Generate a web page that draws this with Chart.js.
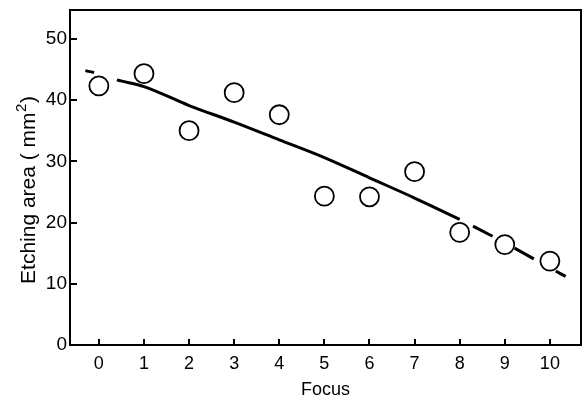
<!DOCTYPE html>
<html>
<head>
<meta charset="utf-8">
<script src="https://cdn.jsdelivr.net/npm/chart.js@4/dist/chart.umd.min.js"></script>
<style>
  html, body { margin: 0; padding: 0; background: #fff; overflow: hidden; }
  #wrap { width: 582px; height: 405px; }
</style>
</head>
<body>
<div id="wrap"><canvas id="etch-chart"></canvas></div>
<script>
// measured etching area at each focus setting
const focus = [0, 1, 2, 3, 4, 5, 6, 7, 8, 9, 10];
const etchArea = [42.3, 44.3, 35.0, 41.2, 37.6, 24.3, 24.2, 28.3, 18.4, 16.4, 13.7];

// fitted trend, solid between 0.4 and 8, dashed outside
const fitX = [-0.3, 0, 0.4, 1, 2, 3, 4, 5, 6, 7, 8, 9, 10, 10.35];
const fitY = [44.8, 44.3, 43.3, 42.2, 39.1, 36.4, 33.5, 30.6, 27.3, 24.0, 20.5, 16.7, 12.6, 11.2];
const solidFrom = 2, solidTo = 10;

const xTicks = [0, 1, 2, 3, 4, 5, 6, 7, 8, 9, 10];
const yTicks = [0, 10, 20, 30, 40, 50];

const FONT = "'Liberation Sans', Arial, sans-serif";

// boxed frame with short inward ticks
const frame = {
    id: 'frame',
    afterDraw(chart) {
        const { ctx, chartArea: a, scales } = chart;
        ctx.save();
        ctx.strokeStyle = '#000';
        ctx.lineWidth = 2;
        ctx.strokeRect(a.left, a.top, a.right - a.left, a.bottom - a.top);
        ctx.beginPath();
        xTicks.forEach(v => {
            const px = Math.round(scales.x.getPixelForValue(v));
            ctx.moveTo(px, a.bottom);
            ctx.lineTo(px, a.bottom - 6);
        });
        yTicks.forEach(v => {
            const py = Math.round(scales.y.getPixelForValue(v));
            ctx.moveTo(a.left, py);
            ctx.lineTo(a.left + 7, py);
        });
        ctx.stroke();
        ctx.restore();
    }
};

// vertical axis title with a proper superscript 2
const yTitle = {
    id: 'yTitle',
    afterDraw(chart) {
        const ctx = chart.ctx;
        const main = 'Etching area ( mm', sup = '2', tail = ')';
        const big = `21px ${FONT}`, small = `15px ${FONT}`;
        ctx.save();
        ctx.fillStyle = '#000';
        ctx.textBaseline = 'alphabetic';
        ctx.font = big;
        const wMain = ctx.measureText(main).width, wTail = ctx.measureText(tail).width;
        ctx.font = small;
        const wSup = ctx.measureText(sup).width + 1;
        const total = wMain + wSup + wTail;
        ctx.translate(35, 190);
        ctx.rotate(-Math.PI / 2);
        let x = -total / 2;
        ctx.font = big;
        ctx.fillText(main, x, 0);
        x += wMain;
        ctx.font = small;
        ctx.fillText(sup, x + 0.5, -9);
        x += wSup;
        ctx.font = big;
        ctx.fillText(tail, x, 0);
        ctx.restore();
    }
};

// fixed axis sizes, no extra room for end labels
const fixSize = (s, w, h) => {
    if (w) s.width = w;
    if (h) s.height = h;
    s.paddingTop = s.paddingBottom = s.paddingLeft = s.paddingRight = 0;
};

new Chart(document.getElementById('etch-chart'), {
    type: 'scatter',
    data: {
        datasets: [
            {
                label: 'Measured',
                data: focus.map((f, i) => ({ x: f, y: etchArea[i] })),
                pointRadius: 9.5,
                pointHoverRadius: 9.5,
                pointBorderWidth: 1.8,
                pointBorderColor: '#000',
                pointBackgroundColor: '#fff',
                showLine: false,
                order: 1
            },
            {
                label: 'Fit',
                data: fitX.map((x, i) => ({ x: x, y: fitY[i] })),
                showLine: true,
                pointRadius: 0,
                borderColor: '#000',
                borderWidth: 3,
                cubicInterpolationMode: 'monotone',
                segment: {
                    borderDash: c => (c.p0DataIndex < solidFrom || c.p0DataIndex >= solidTo) ? [22, 25] : [],
                    borderDashOffset: c => c.p0DataIndex < solidFrom ? 13 : (c.p0DataIndex >= solidTo ? 32 : 0)
                },
                order: 2
            }
        ]
    },
    options: {
        responsive: true,
        maintainAspectRatio: false,
        animation: false,
        layout: { autoPadding: false, padding: { top: 10, right: 1, left: 0, bottom: 0 } },
        plugins: {
            legend: { display: false },
            tooltip: { enabled: false }
        },
        scales: {
            x: {
                type: 'linear',
                min: -0.64,
                max: 10.69,
                afterBuildTicks: s => { s.ticks = xTicks.map(v => ({ value: v })); },
                afterFit: s => fixSize(s, 0, 60),
                grid: { display: false, drawTicks: false },
                border: { display: false },
                ticks: { color: '#000', padding: 8, font: { family: FONT, size: 18 } },
                title: {
                    display: true,
                    text: 'Focus',
                    color: '#000',
                    padding: { top: 6 },
                    font: { family: FONT, size: 18 }
                }
            },
            y: {
                type: 'linear',
                min: 0,
                max: 54.7,
                afterBuildTicks: s => { s.ticks = yTicks.map(v => ({ value: v })); },
                afterFit: s => fixSize(s, 70, 0),
                grid: { display: false, drawTicks: false },
                border: { display: false },
                ticks: { color: '#000', padding: 3, font: { family: FONT, size: 19 } },
                title: { display: false }
            }
        }
    },
    plugins: [frame, yTitle]
});
</script>
</body>
</html>
